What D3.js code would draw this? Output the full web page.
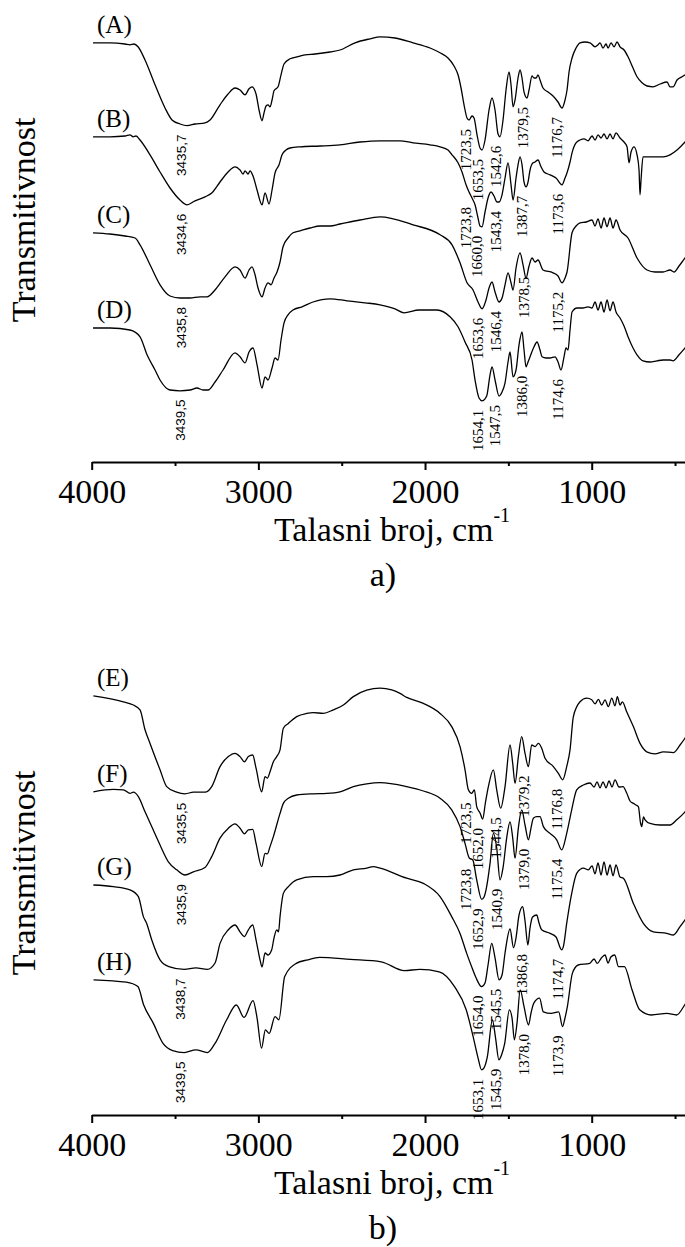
<!DOCTYPE html>
<html>
<head>
<meta charset="utf-8">
<script src="https://cdn.jsdelivr.net/npm/d3@7"></script>
<style>
  body { margin: 0; background: #fff; }
  svg { display: block; }
</style>
</head>
<body>
<svg width="685" height="1247"></svg>
<script>
// wavenumber axis ticks
var majorTicks = [4000, 3000, 2000, 1000];
var minorTicks = [3500, 2500, 1500, 500];

var namesA = ["(A)", "(B)", "(C)", "(D)"];
var namesB = ["(E)", "(F)", "(G)", "(H)"];

// spectra: [wavenumber cm-1, transmittance (a.u., stacked)]
var specA = [[3992,104.8],[3890,104.8],[3800,104.5],[3770,104.3],[3746,104.5],[3722,103.8],[3680,100.5],[3620,94.3],[3560,88.5],[3518,85.5],[3470,84.5],[3428,84.1],[3380,84.5],[3320,84.8],[3290,85.5],[3230,89.3],[3182,92],[3140,93.5],[3110,93],[3080,91.8],[3056,93.3],[3038,93.8],[3014,92],[2996,88],[2978,85.3],[2966,87.3],[2954,89],[2942,89.3],[2930,88.8],[2918,90.5],[2906,92.8],[2894,93.3],[2882,93.8],[2864,96.8],[2846,99.5],[2810,100.8],[2768,101.3],[2720,101.8],[2660,102],[2570,102.5],[2510,103],[2420,104.8],[2330,105.8],[2270,106.3],[2180,106],[2072,104.8],[1970,103.5],[1910,102.3],[1862,101],[1826,99],[1802,96.8],[1784,93.5],[1766,89.3],[1748,86],[1736,85.5],[1718,86.5],[1706,86],[1688,81.8],[1670,78.5],[1658,78],[1640,80.5],[1616,88],[1598,91],[1580,88],[1562,82],[1550,81.3],[1532,85.5],[1514,93],[1496,97.5],[1484,94.3],[1472,88.8],[1460,90.5],[1442,96],[1430,98],[1418,96],[1406,92.5],[1388,91],[1376,93],[1358,96.5],[1346,96],[1334,96],[1322,96.8],[1310,95.5],[1292,93.5],[1262,92.5],[1232,91.5],[1202,90],[1178,88.5],[1160,90.5],[1148,93],[1136,97.5],[1118,101],[1094,103.5],[1070,104.8],[1040,105],[1010,104.8],[980,103.8],[962,104.3],[950,104.8],[932,103.5],[914,104.5],[902,103.5],[884,104.8],[866,103.8],[848,105],[830,103.8],[806,103],[782,101.3],[752,98.5],[728,96.3],[698,94.8],[668,94],[632,93.8],[590,94.5],[548,95],[530,93.8],[512,93.8],[488,95.5],[458,96.3],[410,97.5]];

var specB = [[3992,81.3],[3890,81.3],[3800,81.5],[3770,81.8],[3752,81.3],[3734,81.5],[3710,80.5],[3650,76.8],[3590,72.5],[3530,68.5],[3470,65.5],[3428,64.3],[3380,65.3],[3320,66.3],[3278,67.3],[3230,70],[3182,72.5],[3140,73.8],[3110,73],[3092,72],[3080,72.8],[3062,72],[3050,72.8],[3032,71.5],[3008,68],[2978,64.3],[2960,67.3],[2936,64.5],[2918,68],[2900,72.3],[2876,74.3],[2858,76.8],[2834,78],[2810,78.5],[2750,78.8],[2630,79],[2510,79.3],[2390,80],[2270,80.3],[2150,80.3],[2072,79.8],[1970,79.3],[1910,78.8],[1862,78],[1838,76.8],[1802,74.8],[1778,72.5],[1754,69.3],[1736,67.5],[1718,66],[1700,64.3],[1682,61],[1670,59],[1658,58.8],[1640,62.5],[1622,66],[1604,67.5],[1586,66.5],[1568,65],[1556,65],[1538,66.8],[1520,71],[1502,74.8],[1484,69.3],[1472,65.5],[1454,71],[1442,74.3],[1430,76.3],[1418,74.3],[1406,70],[1394,68.8],[1382,70],[1370,73],[1352,74.8],[1340,75],[1322,75.5],[1304,73.8],[1286,72.5],[1250,71.8],[1214,71],[1178,69.3],[1160,71],[1148,72.3],[1130,75],[1118,77.3],[1094,79.8],[1070,80.5],[1046,80.8],[1022,80.3],[998,81.5],[980,80.5],[962,81.8],[944,81],[926,82],[908,80.8],[890,82],[872,80.8],[854,82.3],[830,81],[806,80],[788,78.8],[776,74.8],[764,77.5],[746,78.8],[728,76.8],[716,73],[710,66.8],[704,70.5],[692,76.3],[674,76.3],[632,76.3],[572,76.3],[530,76.8],[488,78],[440,80],[410,81.5]];

var specC = [[3992,57.3],[3890,57],[3800,56.5],[3740,56],[3710,54.3],[3650,49.3],[3590,44.3],[3530,41.5],[3470,41],[3410,41],[3350,41.3],[3308,41.3],[3260,43],[3200,46.3],[3140,48.8],[3110,48],[3080,46],[3056,48],[3038,48.8],[3020,46.8],[3002,43.5],[2978,41.3],[2960,43.5],[2942,44.8],[2924,44.3],[2906,46],[2888,47.5],[2870,50],[2852,53.8],[2822,56],[2792,57.3],[2750,57.8],[2690,58.5],[2630,59],[2570,59],[2510,59.5],[2390,60.5],[2270,61.3],[2072,59.3],[1910,56.8],[1838,54.3],[1790,49.8],[1748,44.8],[1712,43],[1682,40],[1658,38.3],[1634,40.5],[1616,43.5],[1598,45],[1580,42.5],[1556,40],[1538,41],[1520,44.3],[1502,47.3],[1484,44.8],[1472,43],[1454,48.5],[1430,52.3],[1412,49.3],[1394,46],[1376,49],[1358,51],[1340,50],[1322,50.5],[1292,48],[1232,47.3],[1202,46.5],[1178,44.8],[1160,46],[1148,47.5],[1118,57.3],[1094,59],[1070,59.8],[1034,60],[998,60.5],[980,59],[962,60.8],[944,58.5],[926,61],[908,58.8],[890,61],[872,58.5],[854,60.5],[830,58],[782,56],[728,51],[668,48],[620,47.5],[572,47.5],[530,48],[506,47.5],[476,49],[440,51],[410,52.5]];

var specD = [[3992,33.5],[3890,33.5],[3770,33],[3710,31.3],[3668,26.8],[3620,23],[3590,20.5],[3530,18],[3470,17.8],[3410,18],[3368,18.5],[3332,18],[3302,18],[3260,20],[3212,23],[3140,27.3],[3110,26.3],[3080,24.8],[3056,27.5],[3032,28.5],[3008,24.3],[2978,18.5],[2960,21.3],[2942,20.5],[2918,23.5],[2900,26],[2882,25.5],[2864,30.5],[2846,34.8],[2822,36.8],[2792,38],[2738,38.8],[2672,40],[2570,40.8],[2468,40.3],[2360,39.8],[2270,39.3],[2180,38.3],[2126,37.3],[2036,38],[1928,38],[1850,36.3],[1802,33.8],[1760,30],[1718,25.5],[1700,20.5],[1676,16],[1658,15.3],[1640,15.8],[1628,16.8],[1610,21.8],[1598,23.8],[1580,20.5],[1556,16.5],[1538,17.5],[1520,19.8],[1502,25],[1490,27.5],[1472,21.3],[1454,23],[1436,29.3],[1418,32.5],[1406,28],[1394,23.8],[1382,25],[1370,26.3],[1346,28.8],[1328,30],[1310,28],[1298,26.3],[1274,26],[1250,26],[1220,26.3],[1202,25],[1184,23],[1166,26.3],[1154,28.5],[1142,28],[1130,33],[1118,37.5],[1088,38.5],[1052,38.5],[1022,38.8],[998,38.5],[980,40],[962,38],[944,40],[926,37.5],[908,40.5],[890,37.8],[872,40],[854,37.5],[830,36],[806,34],[782,31.3],[752,28.5],[728,26.8],[692,25.3],[650,25],[608,25.3],[572,25.5],[530,25.5],[512,25.3],[476,26.8],[440,28.5],[398,30.5]];

var specE = [[3990,104.8],[3810,103.3],[3750,102.5],[3710,101.3],[3680,96.3],[3650,92.9],[3590,86.3],[3550,82.1],[3490,80.7],[3440,80.3],[3390,80.7],[3320,80.7],[3280,82.1],[3230,87.1],[3180,89.6],[3140,90.4],[3110,89.6],[3084,88.3],[3060,89.6],[3034,90],[3014,86.7],[2980,80.8],[2960,84.6],[2946,84.2],[2930,85.8],[2910,88.3],[2890,89.6],[2870,91.3],[2850,96.7],[2820,97.9],[2770,99.6],[2710,100.4],[2670,100.6],[2610,100.4],[2550,101.3],[2490,102.5],[2430,104.6],[2350,106.2],[2270,106.7],[2200,106.3],[2150,105.4],[2110,104.4],[2010,102.9],[1910,100.4],[1840,97.1],[1790,92.1],[1760,86.3],[1740,81.3],[1720,80.4],[1704,81.3],[1690,77.1],[1670,75.5],[1654,74],[1638,78],[1620,82.1],[1590,86.3],[1570,81.3],[1546,76.7],[1520,82.1],[1490,92.5],[1474,87.9],[1460,82.9],[1440,89.6],[1420,94.6],[1400,90.4],[1380,87.1],[1360,92.5],[1340,92.1],[1320,92.9],[1300,91.7],[1280,89.2],[1230,87.1],[1200,85.4],[1174,83.8],[1150,87.1],[1130,91.3],[1110,99.6],[1070,103.3],[1030,104.2],[1000,103.8],[980,102.8],[960,103.9],[940,102.5],[920,103.8],[900,102.1],[880,104.2],[860,102.3],[846,104.6],[830,102.5],[816,103.3],[790,100.8],[750,97.1],[710,92.9],[670,90.8],[620,90.3],[570,90.8],[510,90.6],[470,92.5],[440,94.2],[410,96]];

var specF = [[3990,80.8],[3870,81.4],[3810,81.3],[3770,80.4],[3750,80.7],[3720,79.6],[3680,75.8],[3640,72.1],[3590,67.5],[3540,63.3],[3490,61.3],[3440,60],[3390,60.8],[3320,61.9],[3280,64.6],[3230,69.2],[3180,71.7],[3140,72.8],[3110,71.7],[3084,70.3],[3060,71.3],[3034,71.4],[3014,67.9],[2980,62.1],[2960,65.4],[2946,65.3],[2930,67.1],[2910,69.6],[2870,75.4],[2850,77.9],[2820,79.2],[2770,80],[2670,80.3],[2590,80.4],[2510,80.8],[2430,82.1],[2350,82.8],[2270,83.1],[2110,82.1],[2010,81],[1910,79.2],[1840,76.3],[1790,72.1],[1760,67.9],[1734,64.2],[1714,63.8],[1690,58.8],[1660,53.9],[1646,54.5],[1634,56.3],[1610,62.9],[1590,70.4],[1570,66.8],[1550,58.8],[1532,61.8],[1510,69.3],[1490,73.3],[1474,69.3],[1460,64.2],[1440,71.8],[1420,76.3],[1400,72.5],[1380,68.8],[1364,71.8],[1350,74.2],[1330,74.6],[1310,74.6],[1290,72.1],[1250,70.4],[1210,68.8],[1180,66.3],[1150,70.4],[1120,76.3],[1090,81.3],[1050,82.5],[1010,83],[986,82],[968,83.3],[950,81.8],[932,83.3],[914,81.8],[896,83.5],[878,82],[860,83.8],[836,82],[812,82.1],[790,80.5],[770,78.5],[750,77.9],[734,77.5],[720,77.1],[707,73],[700,72.1],[689,74.5],[680,73.8],[650,72.9],[590,72.5],[530,72.5],[490,73.8],[440,75.8],[410,77.5]];

var specG = [[3990,57.5],[3870,57.1],[3770,56.3],[3720,54.6],[3690,49.6],[3670,47.9],[3640,43.8],[3590,38.8],[3537,37.1],[3445,36.4],[3375,36.8],[3306,36.4],[3260,38],[3230,42.9],[3180,46.3],[3140,47.5],[3110,45.8],[3084,44.6],[3060,46.3],[3034,47.5],[3014,43.8],[2990,38.8],[2978,37],[2960,40.5],[2942,40],[2920,41.3],[2906,44.3],[2890,46.3],[2879,45.8],[2870,49.6],[2850,55.4],[2820,57.1],[2770,58.8],[2670,59.6],[2590,59.6],[2510,60],[2430,61.3],[2350,61.7],[2310,62.1],[2270,61.7],[2110,59.2],[2010,57.9],[1910,54.6],[1840,49.6],[1790,45.4],[1750,40.4],[1718,36.8],[1694,34.3],[1661,32.1],[1640,33],[1622,37.5],[1600,42.9],[1580,39.3],[1556,33.8],[1538,35],[1520,40.5],[1490,46.5],[1469,41.8],[1454,44.3],[1436,50],[1414,52.1],[1400,48.5],[1383,42.5],[1370,46.8],[1355,49.5],[1330,50],[1316,48],[1300,46.3],[1250,45.4],[1214,44.5],[1180,41.3],[1169,42.3],[1150,47.9],[1120,55.4],[1090,60.4],[1050,61.7],[1020,61.3],[998,62.3],[980,60.3],[962,63],[944,60],[926,63.3],[908,60],[890,62.5],[872,59.8],[854,62.5],[830,59.5],[810,59.2],[750,52.9],[690,47.9],[630,45.8],[550,45.4],[510,45],[470,47.1],[440,48.8],[410,50.5]];

var specH = [[3989,33.8],[3792,33.2],[3723,32.1],[3688,27.5],[3630,22.9],[3572,17.9],[3514,16.1],[3445,15.6],[3375,16.3],[3306,15.6],[3260,17.9],[3190,23.8],[3132,27.5],[3086,24.4],[3032,28.6],[3008,24.3],[2981,16.7],[2958,21.3],[2935,20.4],[2900,24.6],[2877,23.8],[2842,34.6],[2773,37.9],[2703,38.8],[2634,39.4],[2448,38.9],[2263,38.3],[2124,36.1],[2031,36.4],[1915,35.8],[1823,32.1],[1753,26.3],[1707,18.8],[1682,14.3],[1661,11.3],[1646,11.8],[1626,14.6],[1596,23.8],[1577,19.3],[1557,13.8],[1541,15],[1522,17.9],[1494,26.3],[1478,24.3],[1464,18.8],[1448,23],[1429,31.3],[1406,27.1],[1379,22.5],[1364,25.5],[1348,27.9],[1313,29.2],[1290,25.8],[1244,25.4],[1198,25.8],[1175,22.1],[1160,24.3],[1146,27.1],[1116,35.4],[1081,37.5],[1012,37.9],[986,39],[966,37.9],[943,39.2],[920,40],[902,38],[885,39.5],[862,40],[839,37.1],[804,37.1],[758,31.3],[712,26.3],[642,25],[549,25.4],[491,25],[438,27.8],[410,29.5]];

// peak annotations
var peaksA = [["3435,7","1723,5","1653,5","1542,6","1379,5","1176,7"],
              ["3434,6","1723,8","1660,0","1543,4","1387,7","1173,6"],
              ["3435,8","1653,6","1546,4","1378,5","1175,2"],
              ["3439,5","1654,1","1547,5","1386,0","1174,6"]];
var peaksB = [["3435,5","1723,5","1652,0","1544,5","1379,2","1176,8"],
              ["3435,9","1723,8","1652,9","1540,9","1379,0","1175,4"],
              ["3438,7","1654,0","1545,5","1386,8","1174,7"],
              ["3439,5","1653,1","1545,9","1378,0","1173,9"]];

var serif = "'Liberation Serif','Times New Roman',serif";
var sans = "'Liberation Sans',Arial,sans-serif";

var svg = d3.select("svg");
svg.append("rect").attr("width", 685).attr("height", 1247).attr("fill", "#fff");

var xScale = d3.scaleLinear()
               .domain([4000, 400])
               .range([91.7, 691.7]);

function valueAt(c, wn) {
  for (var i = 0; i < c.length - 1; i++) {
    if (c[i][0] >= wn && c[i + 1][0] <= wn) {
      var t = (c[i][0] - wn) / (c[i][0] - c[i + 1][0]);
      return c[i][1] + t * (c[i + 1][1] - c[i][1]);
    }
  }
  return c[c.length - 1][1];
}

function drawPanel(top, curves, names, peaks, caption) {
  var yScale = d3.scaleLinear()
                 .domain([0, 110])
                 .range([top + 440, top]);
  var g = svg.append("g");

  var lineGenerator = d3.line()
    .x(function(d) { return xScale(d[0]); })
    .y(function(d) { return yScale(d[1]); })
    .curve(d3.curveMonotoneX);

  curves.forEach(function(c, i) {
    g.append("path")
      .attr("d", lineGenerator(c))
      .attr("fill", "none")
      .attr("stroke", "#000")
      .attr("stroke-width", 1.3);

    g.append("text")
      .attr("x", 97)
      .attr("y", yScale(c[0][1]) - 10)
      .attr("font-family", serif)
      .attr("font-size", 25)
      .text(names[i]);

    // peak labels hang just under the band
    peaks[i].forEach(function(s) {
      var wn = +s.replace(",", ".");
      var v = valueAt(c, wn);
      c.forEach(function(p) {
        if (Math.abs(p[0] - wn) <= 14 && p[1] < v) v = p[1];
      });
      var px = xScale(wn), py = yScale(v) + 9;
      g.append("text")
        .attr("transform", "translate(" + px + "," + py + ") rotate(-90)")
        .attr("text-anchor", "end")
        .attr("font-family", wn > 3000 ? sans : serif)
        .attr("font-size", wn > 3000 ? 13.5 : 15)
        .text(s);
    });
  });

  var axisY = top + 440;
  var major = g.append("g")
     .attr("transform", "translate(0," + axisY + ")")
     .call(d3.axisBottom(xScale).tickValues(majorTicks).tickSize(8)
           .tickSizeOuter(0).tickPadding(9).tickFormat(d3.format("d")));
  major.select(".domain").attr("stroke-width", 2);
  major.selectAll(".tick line").attr("stroke-width", 2);
  major.selectAll(".tick text")
       .attr("font-family", serif)
       .attr("font-size", 34)
       .attr("fill", "#000");

  var minor = g.append("g")
     .attr("transform", "translate(0," + axisY + ")")
     .call(d3.axisBottom(xScale).tickValues(minorTicks).tickSize(4).tickFormat(""));
  minor.select(".domain").remove();
  minor.selectAll(".tick line").attr("stroke-width", 2);

  var xl = g.append("text")
     .attr("x", 392)
     .attr("y", axisY + 79)
     .attr("text-anchor", "middle")
     .attr("font-family", serif)
     .attr("font-size", 34);
  xl.append("tspan").text("Talasni broj, cm");
  xl.append("tspan").attr("font-size", 20).attr("dy", -19).text("-1");

  g.append("text")
     .attr("x", 383)
     .attr("y", axisY + 124)
     .attr("text-anchor", "middle")
     .attr("font-family", serif)
     .attr("font-size", 34)
     .text(caption);

  g.append("text")
     .attr("transform", "translate(35," + (top + 198) + ") rotate(-90)")
     .attr("text-anchor", "middle")
     .attr("font-family", serif)
     .attr("font-size", 34)
     .text("Transmitivnost");
}

drawPanel(22, [specA, specB, specC, specD], namesA, peaksA, "a)");
drawPanel(675, [specE, specF, specG, specH], namesB, peaksB, "b)");
</script>
</body>
</html>
